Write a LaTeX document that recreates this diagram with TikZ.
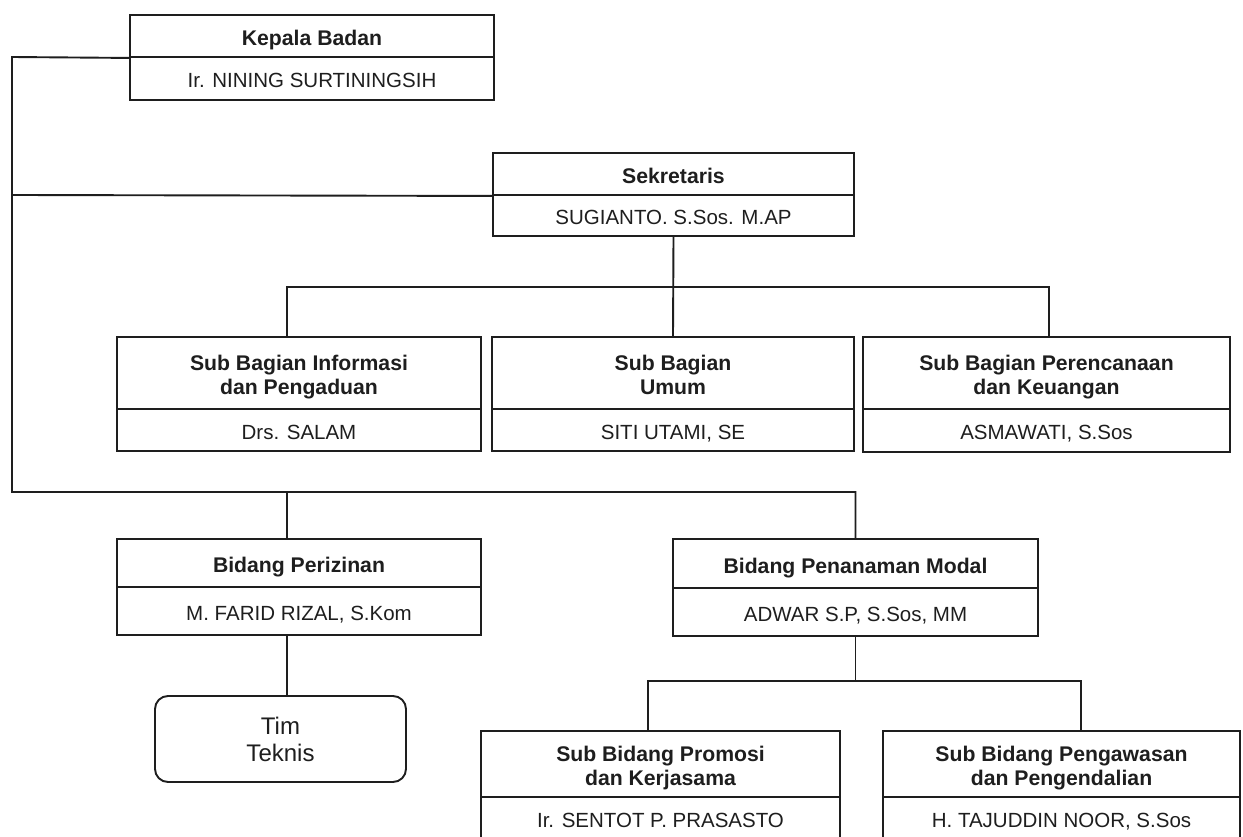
\documentclass[tikz,border=0pt]{standalone}
\usepackage{fontspec}
\setmainfont{Liberation Sans}
\definecolor{ink}{HTML}{1E1E1E}
% #1 name, #2 x1, #3 x2, #4 ytop, #5 ymid, #6 ybot, #7 head style, #8 head, #9 person
\newcommand\orgbox[9]{%
  \node[#7, minimum width={(#3-#2)*1pt}, minimum height={(#5-#4)*1pt}] (#1-h) at ({(#2+#3)/2},{(#4+#5)/2}) {#8};
  \node[cell, minimum width={(#3-#2)*1pt}, minimum height={(#6-#5)*1pt}] (#1-p) at ({(#2+#3)/2},{(#5+#6)/2}) {#9};
}
\tikzset{
  cell/.style={draw=ink, line width=1.9pt, inner sep=0pt, align=center, text=ink,
    font=\fontsize{20.5}{24}\selectfont, text height=18.5pt, text depth=0pt},
  headone/.style={cell, font=\bfseries\fontsize{21.2}{24}\selectfont, text height=19pt, text depth=0pt},
  headtwo/.style={cell, font=\bfseries\fontsize{21.2}{24}\selectfont, text height=42pt, text depth=0pt},
  link/.style={draw=ink, line width=1.9pt},
  roundcell/.style={draw=ink, line width=1.9pt, rounded corners=13pt, inner sep=0pt, align=center, text=ink, font=\fontsize{24}{27}\selectfont},
}
\begin{document}
\begin{tikzpicture}[x=1pt,y=-1pt]
\useasboundingbox (0,0) rectangle (1243,837);
\clip (0,0) rectangle (1243,837);
\fill[white] (0,0) rectangle (1243,837);

\orgbox{kep}{130}{494}{15}{57}{100}{headone}{Kepala Badan}{Ir. NINING SURTININGSIH}
\orgbox{sek}{493}{854}{153}{195}{236}{headone}{Sekretaris}{SUGIANTO. S.Sos. M.AP}
\orgbox{sb1}{117}{481}{337}{409}{451}{headtwo}{Sub Bagian Informasi\\dan Pengaduan}{Drs. SALAM}
\orgbox{sb2}{492}{854}{337}{409}{451}{headtwo}{Sub Bagian\\Umum}{SITI UTAMI, SE}
\orgbox{sb3}{863}{1230}{337}{409}{452}{headtwo}{Sub Bagian Perencanaan\\dan Keuangan}{ASMAWATI, S.Sos}
\orgbox{bp}{117}{481}{539}{587}{635}{headone}{Bidang Perizinan}{M. FARID RIZAL, S.Kom}
\orgbox{bpm}{673}{1038}{539}{588}{636}{headone}{Bidang Penanaman Modal}{ADWAR S.P, S.Sos, MM}
\orgbox{sbp}{481}{840}{731}{797}{840}{headtwo}{Sub Bidang Promosi\\dan Kerjasama}{Ir. SENTOT P. PRASASTO}
\orgbox{sbw}{883}{1240}{731}{797}{840}{headtwo}{Sub Bidang Pengawasan\\dan Pengendalian}{H. TAJUDDIN NOOR, S.Sos}

\node[roundcell, minimum width=251pt, minimum height=86pt] (tim) at (280.5,739) {Tim\\Teknis};

% left bus from Kepala Badan
\coordinate (LT) at (12,57);
\coordinate (LM) at (12,195);
\coordinate (LB) at (12,492);
\coordinate (jbp) at (287,492);
\draw[link] (kep-h.south west) -- (LT) -- (LB) -| (bpm-h.north);
\draw[link] (LM) -- (sek-h.south west);
\draw[link] (jbp) -- (jbp |- bp-h.north);

% Sekretaris to sub bagian
\coordinate (s1) at (287,287);
\coordinate (s3) at (1049,287);
\draw[link] (sek-p.south) -- (sb2-h.north);
\draw[link] (s1 |- sb1-h.north) -- (s1) -- (s3) -- (s3 |- sb3-h.north);

% Bidang Perizinan to Tim Teknis
\draw[link] (bp-p.south -| s1) -- (tim.north -| s1);

% Bidang Penanaman Modal to sub bidang
\coordinate (d1) at (648,681);
\coordinate (d2) at (1081,681);
\draw[link] (bpm-p.south) -- (bpm-p.south |- d1);
\draw[link] (d1 |- sbp-h.north) -- (d1) -- (d2) -- (d2 |- sbw-h.north);
\end{tikzpicture}
\end{document}
